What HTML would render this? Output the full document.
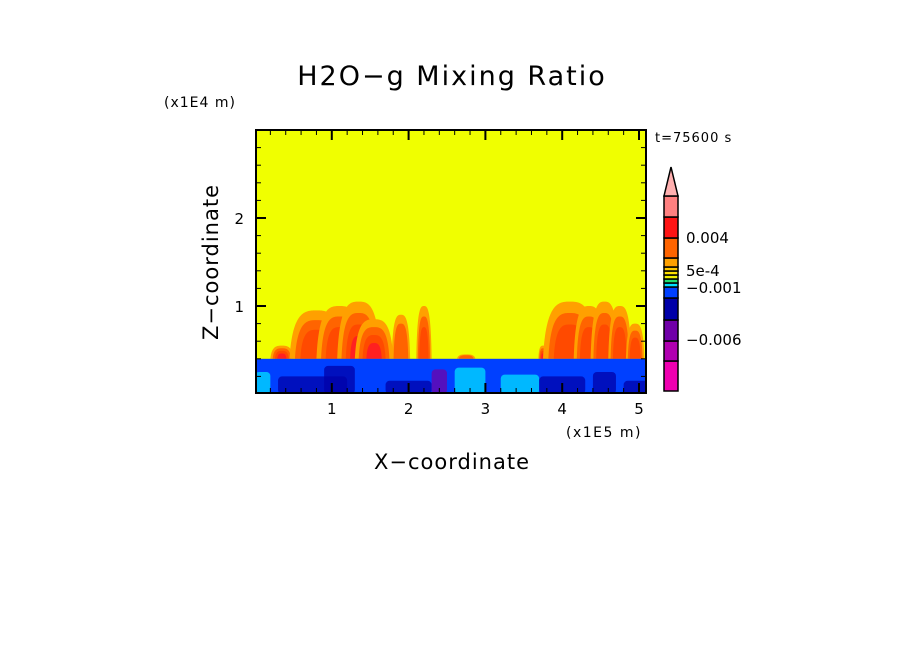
<!DOCTYPE html>
<html><head><meta charset="utf-8"><style>
body{margin:0;background:#fff;width:904px;height:654px;overflow:hidden}
svg text{font-family:"DejaVu Sans","Liberation Sans",sans-serif;fill:#000}
</style></head><body>
<svg id="c" width="904" height="654" xmlns="http://www.w3.org/2000/svg">
<text x="452" y="85" font-size="27" text-anchor="middle" letter-spacing="2">H2O−g Mixing Ratio</text>
<text x="164" y="107" font-size="14" letter-spacing="1">(x1E4 m)</text>
<text x="655" y="142" font-size="13" letter-spacing="1">t=75600 s</text>
<text x="566" y="437" font-size="14" letter-spacing="1.5">(x1E5 m)</text>
<text x="452" y="469" font-size="21" text-anchor="middle" letter-spacing="1">X−coordinate</text>
<text transform="translate(218,262) rotate(-90)" font-size="21" text-anchor="middle" letter-spacing="1">Z−coordinate</text>
<defs><clipPath id="clip"><rect x="256" y="130" width="390" height="263"/></clipPath></defs>
<g id="field" clip-path="url(#clip)"></g>
<g id="axes"></g>
<g id="cbar"></g>
</svg>
<script>
const xTicks=[1,2,3,4,5];
const yTicks=[1,2];
// plumes: center x (1e5 m), top z (1e4 m), half-width (1e5 m), level index
const plumeX=[0.35,0.8,1.1,1.35,1.55,1.9,2.2,2.75,3.75,4.1,4.35,4.55,4.75,4.95];
const plumeTop=[0.55,0.95,1.0,1.05,0.85,0.9,1.0,0.45,0.55,1.05,1.0,1.05,1.0,0.8];
const plumeW=[0.15,0.35,0.3,0.28,0.25,0.12,0.1,0.12,0.06,0.35,0.2,0.18,0.15,0.12];
const plumeLvl=[3,2,2,3,3,1,2,1,3,2,2,2,2,2];
// boundary layer patches: x start, x end, z top, color kind
const blX0=[0,0.3,1.7,2.6,3.2,3.7,4.4,4.8,0.9,2.3];
const blX1=[0.2,1.2,2.3,3.0,3.7,4.3,4.7,5.2,1.3,2.5];
const blTop=[0.25,0.2,0.15,0.3,0.22,0.2,0.25,0.15,0.32,0.28];
const blKind=[0,1,1,0,0,1,1,1,1,2];
const levelColors=["#ffa000","#ff6400","#ff4a00","#ff2020","#ff8080"];
const cbColors=["#f000b0","#b000b0","#7000a8","#0000a8","#0040ff","#00e0ff","#20e070","#f0f000","#ffe000","#ffc800","#ffa000","#ff6400","#ff1414","#ff8080"];
const cbHeights=[30,20,21,22,11,4,4,4,4,4,9,20,21,21];
const cbLabels=["−0.006","−0.001","5e-4","0.004"];
const cbLabelY=[345,293,276,243];
const blPalette=["#00e0ff","#0000a8","#7000a8"];
const sx=v=>255+v*76.8, sz=v=>394-v*88;
const NS="http://www.w3.org/2000/svg";
function mk(p,t,a){const e=document.createElementNS(NS,t);for(const k in a)e.setAttribute(k,a[k]);p.appendChild(e);return e;}
const F=document.getElementById('field');
let r=mk(F,'rect',{x:256,y:130,width:390,height:263,fill:'#f0ff00'});


const base=0.4;
plumeX.forEach((px,i)=>{
 for(let l=0;l<=plumeLvl[i];l++){
  const f=1-l*0.2;
  const top=base+(plumeTop[i]-base)*f, w=plumeW[i]*f;
  const p=mk(F,'path',{d:`M${sx(px-w)},${sz(base)} C${sx(px-w*0.9)},${sz(top)} ${sx(px-w*0.4)},${sz(top)} ${sx(px)},${sz(top)} C${sx(px+w*0.4)},${sz(top)} ${sx(px+w*0.9)},${sz(top)} ${sx(px+w)},${sz(base)} Z`,fill:levelColors[l]});
  
  
 }
});
r=mk(F,'rect',{x:256,y:sz(base),width:390,height:394-sz(base),fill:'#0040ff'});


blX0.forEach((x0,i)=>{
 const e=mk(F,'rect',{x:sx(x0),y:sz(blTop[i]),width:sx(blX1[i])-sx(x0),height:394-sz(blTop[i]),fill:blPalette[blKind[i]],opacity:0.75,rx:4});
 
 
});
const A=document.getElementById('axes');
let fr=mk(A,'rect',{x:256,y:130,width:390,height:263,fill:'none',stroke:'#000','stroke-width':2});


for(let v=0.2;v<5.15;v+=0.2){const x=sx(v),maj=Math.abs(v-Math.round(v))<0.01;
 mk(A,'line',{x1:x,x2:x,y1:393,y2:393-(maj?10:5),stroke:'#000','stroke-width':maj?2:1});
 mk(A,'line',{x1:x,x2:x,y1:130,y2:130+(maj?10:5),stroke:'#000','stroke-width':maj?2:1});}
for(let v=0.2;v<3;v+=0.2){const y=sz(v),maj=Math.abs(v-Math.round(v))<0.01;
 mk(A,'line',{x1:256,x2:256+(maj?10:5),y1:y,y2:y,stroke:'#000','stroke-width':maj?2:1});
 mk(A,'line',{x1:646,x2:646-(maj?10:5),y1:y,y2:y,stroke:'#000','stroke-width':maj?2:1});}
xTicks.forEach(v=>{const t=mk(A,'text',{x:sx(v),y:414,'font-size':15,'text-anchor':'middle'});t.textContent=v;
 
 });
yTicks.forEach(v=>{const t=mk(A,'text',{x:244,y:sz(v)+6,'font-size':15,'text-anchor':'end'});t.textContent=v;
 
 });
const C=document.getElementById('cbar');
let y=391;
cbColors.forEach((c,i)=>{y-=cbHeights[i];
 const e=mk(C,'rect',{x:664,y:y,width:14,height:cbHeights[i],fill:c,stroke:'#000','stroke-width':1.5});
 
 });
const tri=mk(C,'polygon',{points:`664,${y} 678,${y} 671,167`,fill:'#ffb0b0',stroke:'#000','stroke-width':1.5});


cbLabels.forEach((s,i)=>{const t=mk(C,'text',{x:686,y:cbLabelY[i],'font-size':15});t.textContent=s;
 
 });
</script>
</body></html>
